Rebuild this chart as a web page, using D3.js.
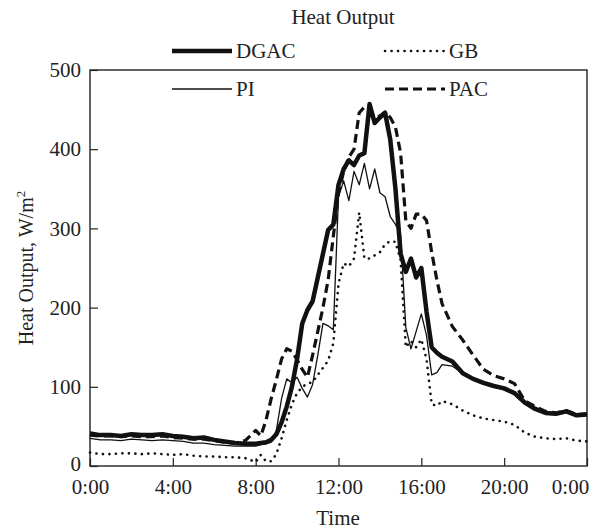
<!DOCTYPE html>
<html>
<head>
<meta charset="utf-8">
<script src="https://cdnjs.cloudflare.com/ajax/libs/d3/7.8.5/d3.min.js"></script>
<style>
  body { margin: 0; background: #fff; }
  text { font-family: "Liberation Serif", "Times New Roman", serif; fill: #222; }
</style>
</head>
<body>
<svg width="603" height="531"></svg>
<script>
// time of day in hours (finer steps around the midday peak)
var hours = [0,0.5,1,1.5,2,2.5,3,3.5,4,4.5,5,5.5,6,6.5,7,7.5,
  8,8.25,8.5,8.75,9,9.25,9.5,9.75,10,10.25,10.5,10.75,11,11.25,11.5,11.75,
  12,12.25,12.5,12.75,13,13.25,13.5,13.75,14,14.25,14.5,14.75,15,15.25,15.5,15.75,
  16,16.25,16.5,16.75,17,17.5,18,18.5,19,19.5,20,20.5,21,21.5,22,22.5,23,23.5,24];

// heat output, W/m2
var dgac = [41,39,39,38,40,39,39,40,38,37,35,36,33,31,29,28,
  28,29,30,33,40,55,75,100,135,180,197,208,238,268,298,305,
  355,375,386,380,392,395,457,433,440,446,412,350,268,245,262,238,
  250,195,150,143,138,132,117,110,105,101,98,92,80,72,67,66,69,64,65];
var pac = [39,38,38,37,38,37,37,38,36,35,34,34,32,30,29,32,
  45,38,58,85,109,135,148,145,134,122,112,140,170,200,235,290,
  345,372,390,400,446,453,448,440,442,447,440,428,395,310,300,318,
  318,310,270,235,205,176,159,140,122,114,110,104,82,75,69,67,70,65,66];
var pi = [35,33,33,32,34,33,32,33,32,31,29,29,27,26,25,25,
  25,27,28,30,45,85,110,105,112,98,87,103,140,180,177,172,
  340,360,335,372,355,382,350,375,345,340,315,305,292,175,148,170,
  192,165,115,118,128,126,117,110,104,100,96,90,78,72,66,67,70,63,66];
var gb = [17,15,15,16,16,15,16,15,14,15,13,12,12,11,11,10,
  5,14,6,6,15,35,58,78,92,100,104,106,115,124,133,155,
  230,256,252,262,320,262,262,266,270,280,284,283,260,150,158,150,
  160,135,78,76,82,78,70,64,60,58,56,52,42,37,35,34,35,32,31];

var xTicks = [0,4,8,12,16,20,24];
var yTicks = [0,100,200,300,400,500];

var series = [
  {id:"GB", values:gb, width:2.6, dash:"0.1,6.4", cap:"round"},
  {id:"PI", values:pi, width:1.3, dash:null, cap:"butt"},
  {id:"PAC", values:pac, width:3.2, dash:"9,5", cap:"butt"},
  {id:"DGAC", values:dgac, width:4.5, dash:null, cap:"butt"}
];
function style(id){ return series.filter(function(s){ return s.id==id; })[0]; }

var svg = d3.select("svg"),
    margin = {top: 70, right: 16, bottom: 65, left: 90},
    width = +svg.attr("width") - margin.left - margin.right,
    height = +svg.attr("height") - margin.top - margin.bottom,
    g = svg.append("g").attr("transform", "translate(" + margin.left + "," + margin.top + ")");

var x = d3.scaleLinear().domain([0,24]).range([0, width]),
    y = d3.scaleLinear().domain([0,500]).range([height, 0]);

var line = d3.line()
    .x(function(d) { return x(d[0]); })
    .y(function(d) { return y(d[1]); });

// axes, ticks pointing inward
var xAxis = g.append("g")
    .attr("transform", "translate(0," + height + ")")
    .call(d3.axisBottom(x).tickValues(xTicks).tickSizeInner(-8).tickSizeOuter(0).tickPadding(13)
      .tickFormat(function(d){ return (d % 24) + ":00"; }));
xAxis.select(".domain").remove();
xAxis.selectAll("text").style("font-size","21px").style("font-family","Liberation Serif");
xAxis.selectAll(".tick").filter(function(d){ return d==24; }).select("text").attr("dx", -17);

var yAxis = g.append("g")
    .call(d3.axisLeft(y).tickValues(yTicks).tickSizeInner(-8).tickSizeOuter(0).tickPadding(9));
yAxis.select(".domain").remove();
yAxis.selectAll("text").style("font-size","21px").style("font-family","Liberation Serif");
yAxis.selectAll(".tick").filter(function(d){ return d==0; }).select("text").attr("dy", "0.2em");
g.selectAll(".tick line").attr("stroke","#222").attr("stroke-width",1.2);

g.append("rect")
    .attr("width", width).attr("height", height)
    .attr("fill","none").attr("stroke","#222").attr("stroke-width",1.4);

// curves
g.selectAll(".series")
  .data(series)
  .enter().append("path")
    .attr("class","series")
    .attr("fill","none")
    .attr("stroke","#111")
    .attr("stroke-width", function(d){ return d.width; })
    .attr("stroke-dasharray", function(d){ return d.dash; })
    .attr("stroke-linecap", function(d){ return d.cap; })
    .attr("stroke-linejoin","round")
    .attr("d", function(d){ return line(hours.map(function(h,i){ return [h, d.values[i]]; })); });

// titles
svg.append("text").attr("x", 343).attr("y", 24).attr("text-anchor","middle")
    .style("font-size","21px").text("Heat Output");
svg.append("text").attr("x", 338).attr("y", 525).attr("text-anchor","middle")
    .style("font-size","21px").text("Time");
var yl = svg.append("text")
    .attr("transform","translate(33," + (margin.top + height/2) + ") rotate(-90)")
    .attr("text-anchor","middle").style("font-size","20px");
yl.append("tspan").text("Heat Output,  W/m");
yl.append("tspan").attr("dy",-8).style("font-size","13px").text("2");

// legend
var legend = [
  {id:"DGAC", x:172, y:51},
  {id:"GB", x:385, y:51},
  {id:"PI", x:172, y:89},
  {id:"PAC", x:385, y:89}
];
var lg = svg.selectAll(".legend").data(legend).enter().append("g").attr("class","legend");
lg.append("line")
    .attr("x1", function(d){ return d.x; }).attr("x2", function(d){ return d.x + 60; })
    .attr("y1", function(d){ return d.y; }).attr("y2", function(d){ return d.y; })
    .attr("stroke","#111")
    .attr("stroke-width", function(d){ return style(d.id).width; })
    .attr("stroke-dasharray", function(d){ return style(d.id).dash; })
    .attr("stroke-linecap", function(d){ return style(d.id).cap; });
lg.append("text")
    .attr("x", function(d){ return d.x + 64; }).attr("y", function(d){ return d.y + 7; })
    .style("font-size","21px")
    .text(function(d){ return d.id; });
</script>
</body>
</html>
